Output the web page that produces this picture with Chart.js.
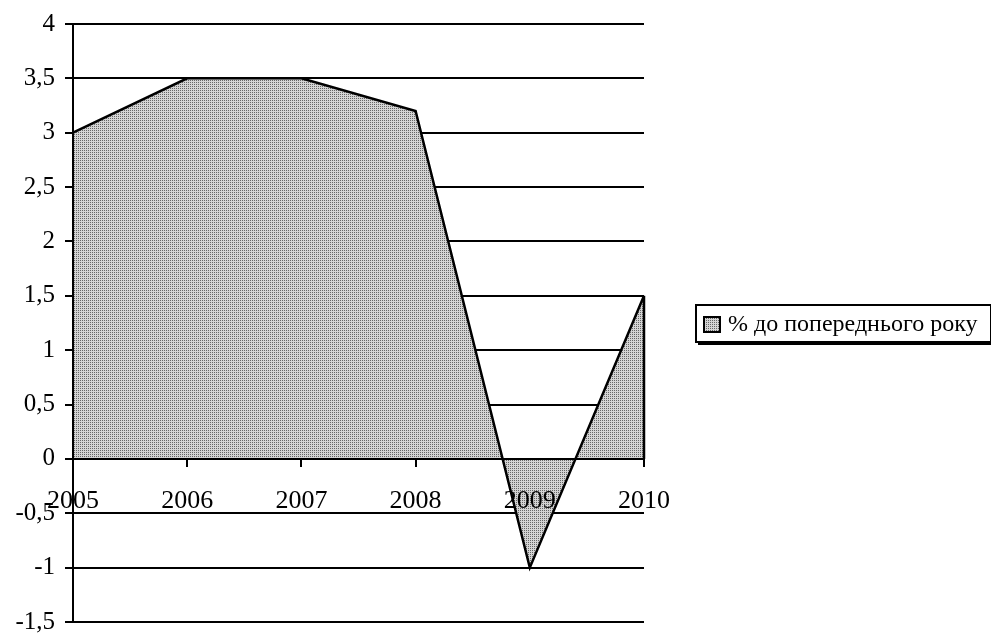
<!DOCTYPE html>
<html>
<head>
<meta charset="utf-8">
<script src="https://cdn.jsdelivr.net/npm/chart.js@4/dist/chart.umd.min.js"></script>
<style>
  html, body { margin: 0; padding: 0; background: #fff; }
  #wrap { width: 991px; height: 635px; }
</style>
</head>
<body>
<div id="wrap"><canvas id="myChart"></canvas></div>
<script>
const years = ['2005', '2006', '2007', '2008', '2009', '2010'];
const growth = [3, 3.5, 3.5, 3.2, -1, 1.5];
const yTickLabels = ['-1,5', '-1', '-0,5', '0', '0,5', '1', '1,5', '2', '2,5', '3', '3,5', '4'];
const seriesName = '% до попереднього року';

// dotted gray fill like the old excel pattern
function dotPattern() {
  const c = document.createElement('canvas');
  c.width = 2; c.height = 2;
  const g = c.getContext('2d');
  g.fillStyle = '#d4d4d4';
  g.fillRect(0, 0, 2, 2);
  g.fillStyle = '#666';
  g.fillRect(0, 0, 1, 1);
  return g.createPattern(c, 'repeat');
}
const pattern = dotPattern();

const serif = '"Liberation Serif", "Times New Roman", serif';

// closes the area on the right side and draws the boxed legend
const extras = {
  id: 'extras',
  afterDatasetsDraw(chart) {
    const ctx = chart.ctx;
    const x = chart.scales.x, y = chart.scales.y;
    const last = growth.length - 1;
    const px = x.getPixelForValue(last);
    ctx.save();
    ctx.strokeStyle = '#000';
    ctx.lineWidth = 2.5;
    ctx.beginPath();
    ctx.moveTo(px, y.getPixelForValue(growth[last]));
    ctx.lineTo(px, y.getPixelForValue(0));
    ctx.stroke();
    ctx.restore();
  },
  afterDraw(chart) {
    const ctx = chart.ctx;
    const left = chart.chartArea.right + 52;
    const top = 305;
    const w = 295, h = 37;
    ctx.save();
    ctx.fillStyle = '#fff';
    ctx.fillRect(left, top, w, h);
    ctx.strokeStyle = '#000';
    ctx.lineWidth = 2;
    ctx.strokeRect(left, top, w, h);
    ctx.beginPath();
    ctx.moveTo(left + 2, top + h + 2);
    ctx.lineTo(left + w + 2, top + h + 2);
    ctx.lineTo(left + w + 2, top + 2);
    ctx.stroke();
    // swatch
    ctx.fillStyle = pattern;
    ctx.fillRect(left + 8, top + 12, 16, 15);
    ctx.lineWidth = 2;
    ctx.strokeRect(left + 8, top + 12, 16, 15);
    ctx.fillStyle = '#000';
    ctx.font = '24px ' + serif;
    ctx.textBaseline = 'middle';
    ctx.fillText(seriesName, left + 32, top + h / 2 + 1);
    ctx.restore();
  }
};

const ctx = document.getElementById('myChart');

new Chart(ctx, {
  type: 'line',
  data: {
    labels: years,
    datasets: [{
      label: seriesName,
      data: growth,
      borderColor: '#000',
      borderWidth: 2.5,
      backgroundColor: pattern,
      fill: 'origin',
      pointRadius: 0,
      tension: 0,
    }],
  },
  options: {
    responsive: true,
    maintainAspectRatio: false,
    animation: false,
    layout: {
      padding: { left: 0, top: 24, right: 347, bottom: 13 }
    },
    plugins: {
      legend: false,
      tooltip: { enabled: false },
    },
    scales: {
      x: {
        type: 'category',
        position: { y: 0 },
        offset: false,
        grid: {
          display: true,
          drawOnChartArea: false,
          drawTicks: true,
          tickLength: 7,
          color: '#000',
          lineWidth: 2,
        },
        border: { display: true, color: '#000', width: 2, z: 1 },
        ticks: {
          z: 1,
          color: '#000',
          font: { family: serif, size: 26 },
          padding: 20,
          maxRotation: 0,
          autoSkip: false,
        },
      },
      y: {
        min: -1.5,
        max: 4,
        afterFit(scale) {
          scale.width = 73;
          scale.paddingTop = 0;
          scale.paddingBottom = 0;
        },
        grid: {
          color: '#000',
          lineWidth: 2,
          tickLength: 8,
        },
        border: { display: true, color: '#000', width: 2, z: 1 },
        ticks: {
          stepSize: 0.5,
          color: '#000',
          font: { family: serif, size: 25 },
          padding: 10,
          callback: (v, i) => yTickLabels[i],
        },
      },
    },
  },
  plugins: [extras],
});
</script>
</body>
</html>
